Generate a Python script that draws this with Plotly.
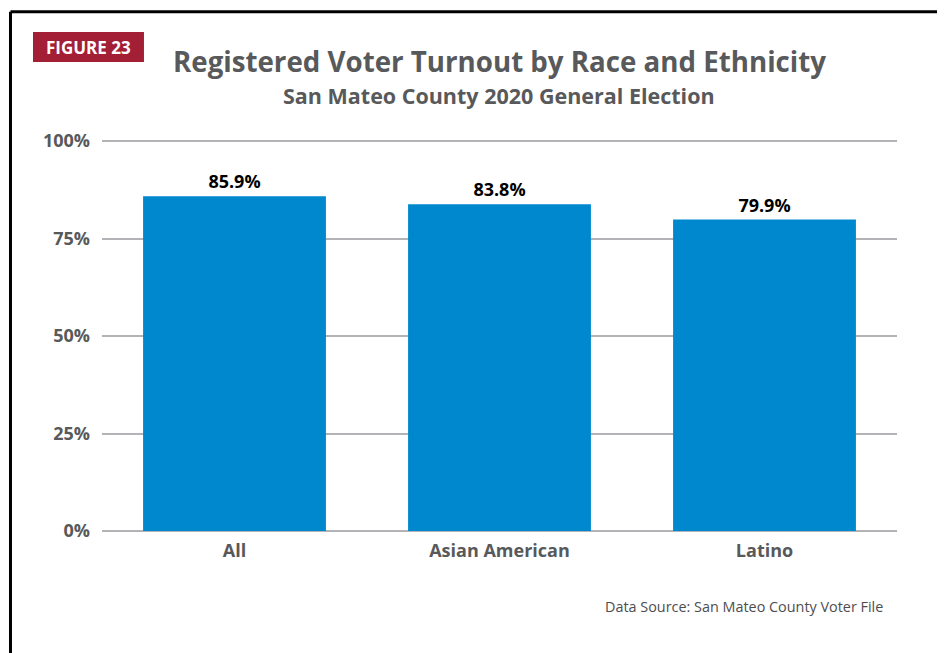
import plotly.graph_objects as go

groups = ["All", "Asian American", "Latino"]
turnout = [85.9, 83.8, 79.9]
y_ticks = [0, 25, 50, 75, 100]
y_tick_labels = ["0%", "25%", "50%", "75%", "100%"]

FONT = "Open Sans"
GRAY = "#58595B"

fig = go.Figure()

fig.add_trace(go.Bar(
    x=groups, y=turnout,
    marker=dict(color="#0088CE", line=dict(width=0)),
    text=[f"{v:.1f}%" for v in turnout],
    textposition="outside",
    textfont=dict(family=FONT, size=18, color="black", weight="bold"),
    cliponaxis=False,
    width=0.69,
))

fig.update_xaxes(
    showgrid=False, showline=False, ticks="",
    ticklabelstandoff=7,
    tickfont=dict(family=FONT, size=18, color=GRAY, weight="bold"),
)
fig.update_yaxes(
    range=[0, 100.3], tickvals=y_ticks, ticktext=y_tick_labels,
    showgrid=True, gridcolor="#B1B3B6", gridwidth=2,
    zeroline=True, zerolinecolor="#B1B3B6", zerolinewidth=2,
    showline=False, ticks="",
    ticklabelstandoff=11,
    tickfont=dict(family=FONT, size=18, color=GRAY, weight="bold"),
)

# the page sits 8px in from the window corner, so everything is placed 8px up/left
# paper coords: x = (px - 102) / 795, y = (531 - py) / 391

# frame lines (left and top)
fig.add_shape(type="line", xref="paper", yref="paper",
              x0=-0.1151, x1=-0.1151, y0=-0.36, y1=1.328,
              line=dict(color="black", width=3))
fig.add_shape(type="line", xref="paper", yref="paper",
              x0=-0.1151, x1=1.08, y0=1.328, y1=1.328,
              line=dict(color="black", width=3))

# figure label box
fig.add_shape(type="rect", xref="paper", yref="paper", layer="below",
              x0=-0.0868, x1=0.0528, y0=1.1995, y1=1.2762,
              fillcolor="#A31F36", line=dict(width=0))
fig.add_annotation(x=-0.017, y=1.2378, xref="paper", yref="paper",
                   xanchor="center", yanchor="middle",
                   text="<b>FIGURE 23</b>", showarrow=False,
                   font=dict(family=FONT, size=17, color="white"))

fig.add_annotation(x=0.4994, y=1.202, xref="paper", yref="paper",
                   xanchor="center", yanchor="middle",
                   text="<b>Registered Voter Turnout by Race and Ethnicity</b>",
                   showarrow=False, font=dict(family=FONT, size=27.7, color=GRAY))
fig.add_annotation(x=0.4994, y=1.113, xref="paper", yref="paper",
                   xanchor="center", yanchor="middle",
                   text="<b>San Mateo County 2020 General Election</b>",
                   showarrow=False, font=dict(family=FONT, size=21.5, color=GRAY))
fig.add_annotation(x=0.985, y=-0.192, xref="paper", yref="paper",
                   xanchor="right", yanchor="middle",
                   text="Data Source: San Mateo County Voter File",
                   showarrow=False, font=dict(family=FONT, size=14.4, color="#4D4D4F"))

fig.update_layout(
    width=945, height=653,
    margin=dict(l=94, r=56, t=132, b=130),
    plot_bgcolor="white", paper_bgcolor="white",
    showlegend=False,
    bargap=0.31,
)

fig.write_html("out.html")
